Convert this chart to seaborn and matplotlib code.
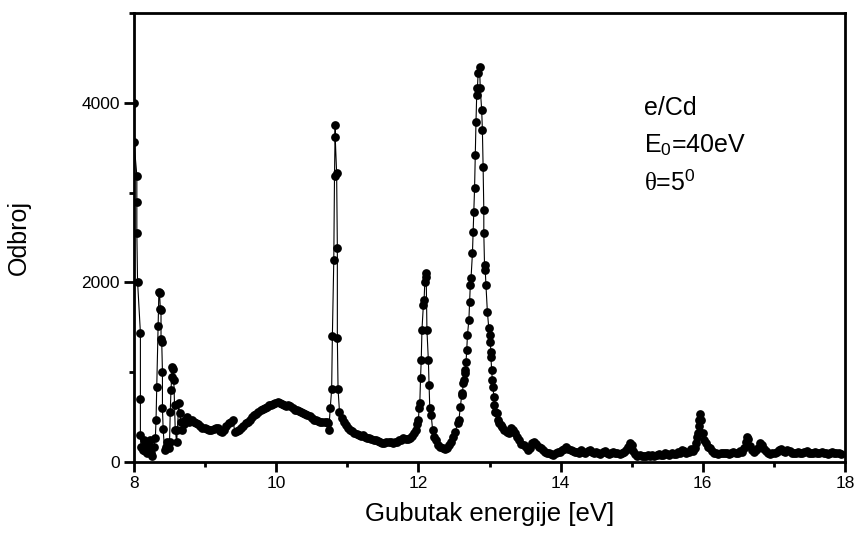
import matplotlib
matplotlib.use("Agg")
import matplotlib.pyplot as plt
import seaborn as sns
import pandas as pd
from matplotlib.ticker import MultipleLocator

# ---- data ----
energy = [
    8.00, 8.00, 8.04, 8.04, 8.04, 8.05, 8.09, 8.09, 8.09, 8.10,
    8.12, 8.14, 8.16, 8.18, 8.20, 8.22, 8.24, 8.26, 8.28, 8.30,
    8.31, 8.32, 8.34, 8.35, 8.36, 8.37, 8.38, 8.38, 8.39, 8.40, 8.40, 8.41, 8.43, 8.45, 8.47, 8.49,
    8.50, 8.51, 8.52, 8.53, 8.54, 8.55, 8.56, 8.57, 8.58, 8.60, 8.61, 8.63, 8.64, 8.66, 8.68,
    8.70, 8.72, 8.74, 8.76, 8.78, 8.81, 8.84, 8.87, 8.90, 8.93, 8.96, 9.00, 9.03, 9.06, 9.09,
    9.12, 9.15, 9.18, 9.21, 9.24, 9.27, 9.30, 9.33, 9.36, 9.39, 9.42, 9.45, 9.48, 9.51, 9.54,
    9.57, 9.60, 9.63, 9.66, 9.69, 9.72, 9.75, 9.78, 9.81, 9.84, 9.87, 9.90, 9.93, 9.96, 9.99,
    10.02, 10.05, 10.08, 10.11, 10.14, 10.17, 10.20, 10.23, 10.26, 10.29, 10.32, 10.35, 10.38,
    10.41, 10.44, 10.47, 10.50, 10.53, 10.56, 10.59, 10.62, 10.65, 10.68, 10.71, 10.73, 10.74,
    10.76, 10.78, 10.79, 10.81, 10.82, 10.83, 10.83, 10.85, 10.86, 10.86, 10.87, 10.89, 10.92,
    10.95, 10.98, 11.01, 11.04, 11.07, 11.10, 11.13, 11.16, 11.19, 11.22, 11.25, 11.28, 11.31,
    11.34, 11.37, 11.40, 11.43, 11.46, 11.49, 11.52, 11.55, 11.58, 11.61, 11.64, 11.67, 11.70,
    11.73, 11.76, 11.79, 11.82, 11.85, 11.88, 11.91, 11.94, 11.96, 11.98, 12.00, 12.01, 12.02,
    12.03, 12.04, 12.05, 12.07, 12.08, 12.09, 12.10, 12.11, 12.12, 12.14, 12.15, 12.16, 12.18,
    12.20, 12.22, 12.25, 12.28, 12.31, 12.34, 12.37, 12.40, 12.43, 12.46, 12.49, 12.52, 12.55,
    12.57, 12.59, 12.61, 12.62, 12.63, 12.64, 12.65, 12.66, 12.67, 12.68, 12.69, 12.71, 12.72,
    12.73, 12.74, 12.76, 12.77, 12.78, 12.79, 12.80, 12.81, 12.82, 12.83, 12.84, 12.86, 12.87,
    12.89, 12.90, 12.91, 12.92, 12.92, 12.93, 12.94, 12.95, 12.97, 12.99, 13.00, 13.01, 13.02,
    13.02, 13.03, 13.04, 13.05, 13.06, 13.07, 13.08, 13.10, 13.12, 13.14, 13.16, 13.18, 13.21,
    13.24, 13.27, 13.30, 13.33, 13.36, 13.39, 13.42, 13.45, 13.48, 13.51, 13.54, 13.57, 13.60,
    13.63, 13.66, 13.69, 13.72, 13.75, 13.78, 13.81, 13.84, 13.87, 13.90, 13.93, 13.96, 13.99,
    14.02, 14.05, 14.08, 14.11, 14.14, 14.17, 14.20, 14.23, 14.26, 14.29, 14.32, 14.35, 14.38,
    14.41, 14.44, 14.47, 14.50, 14.53, 14.56, 14.59, 14.62, 14.65, 14.68, 14.71, 14.74, 14.77,
    14.80, 14.83, 14.86, 14.89, 14.92, 14.95, 14.98, 15.00, 15.02, 15.05, 15.08, 15.11, 15.14,
    15.17, 15.20, 15.23, 15.26, 15.29, 15.32, 15.35, 15.38, 15.41, 15.44, 15.47, 15.50, 15.53,
    15.56, 15.59, 15.62, 15.65, 15.68, 15.71, 15.74, 15.77, 15.80, 15.83, 15.86, 15.89, 15.91,
    15.92, 15.93, 15.94, 15.95, 15.96, 15.98, 16.00, 16.02, 16.05, 16.08, 16.10, 16.13, 16.16,
    16.19, 16.22, 16.25, 16.28, 16.31, 16.34, 16.37, 16.40, 16.43, 16.46, 16.49, 16.52, 16.55,
    16.58, 16.61, 16.62, 16.64, 16.66, 16.69, 16.72, 16.75, 16.78, 16.81, 16.83, 16.86, 16.89,
    16.92, 16.95, 16.98, 17.01, 17.04, 17.07, 17.10, 17.13, 17.16, 17.19, 17.22, 17.25, 17.28,
    17.31, 17.34, 17.37, 17.40, 17.43, 17.46, 17.49, 17.52, 17.55, 17.58, 17.61, 17.64, 17.67,
    17.70, 17.73, 17.76, 17.79, 17.82, 17.85, 17.88, 17.91, 17.94,
]
counts = [
    4000, 3560, 3190, 2890, 2550, 2010, 1440, 700, 300, 165,
    130, 250, 120, 100, 180, 245, 104, 67, 170, 264,
    468, 838, 1520, 1896, 1880, 1700, 1690, 1365, 1340, 1006, 598, 364, 134, 170, 226, 160,
    226, 560, 800, 950, 1061, 1040, 913, 635, 356, 226, 356, 653, 545, 449, 356,
    420, 468, 500, 468, 450, 468, 440, 431, 420, 400, 380, 375, 370, 356, 356,
    365, 380, 375, 340, 338, 360, 400, 430, 449, 468, 330, 340, 356, 380, 400,
    431, 440, 470, 505, 520, 540, 560, 580, 590, 600, 616, 630, 640, 646, 660,
    671, 660, 650, 635, 620, 640, 620, 600, 580, 575, 565, 560, 545,
    540, 523, 510, 490, 470, 468, 455, 449, 450, 445, 440, 431, 356,
    598, 810, 1400, 2250, 3185, 3750, 3620, 3215, 2380, 1377, 810, 560, 487,
    440, 412, 380, 356, 340, 320, 310, 300, 290, 300, 280, 270, 264,
    255, 250, 245, 230, 220, 208, 210, 220, 226, 226, 215, 220, 226,
    240, 250, 264, 260, 255, 264, 290, 320, 356, 420, 468, 598, 660,
    932, 1136, 1470, 1750, 1804, 2000, 2101, 2060, 1470, 1136, 857, 598, 523,
    356, 282, 245, 190, 170, 152, 150, 152, 190, 226, 280, 338, 431,
    468, 616, 746, 765, 876, 913, 988, 1024, 1117, 1247, 1414, 1581, 1785,
    1971, 2045, 2324, 2565, 2788, 3048, 3419, 3790, 4087, 4161, 4328, 4402, 4161,
    3920, 3697, 3289, 2806, 2547, 2194, 2138, 1971, 1674, 1489, 1414, 1340, 1228,
    1173, 1024, 913, 838, 727, 635, 560, 542, 468, 431, 412, 393, 360,
    338, 320, 375, 356, 320, 282, 245, 200, 190, 170, 134, 160, 210,
    226, 200, 170, 152, 130, 110, 96, 96, 85, 78, 100, 115, 115,
    130, 150, 170, 140, 134, 120, 115, 115, 100, 130, 110, 95, 120,
    130, 110, 100, 115, 95, 90, 110, 120, 95, 90, 100, 110, 95,
    100, 90, 95, 110, 130, 170, 210, 190, 120, 85, 70, 75, 70,
    65, 70, 75, 70, 80, 70, 75, 90, 80, 75, 95, 85, 80,
    100, 90, 85, 110, 100, 130, 120, 95, 110, 140, 120, 160, 208,
    275, 326, 401, 468, 534, 470, 320, 250, 208, 170, 160, 120, 100,
    95, 90, 95, 100, 95, 100, 90, 95, 110, 100, 95, 120, 110,
    160, 226, 275, 260, 180, 130, 110, 130, 160, 208, 190, 140, 120,
    95, 90, 100, 105, 110, 130, 140, 120, 110, 134, 120, 100, 95,
    100, 110, 100, 95, 110, 120, 100, 95, 105, 110, 95, 100, 110,
    95, 100, 90, 100, 110, 100, 95, 100, 90,
]

x_ticks = [8, 10, 12, 14, 16, 18]
y_ticks = [0, 2000, 4000]
annot_lines = ["e/Cd", r"E$_{\mathrm{0}}$=40eV", r"$\theta$=5$^{\mathrm{0}}$"]

sns.set_style("ticks")
plt.rcParams["font.family"] = ["Liberation Sans", "DejaVu Sans"]
plt.rcParams["mathtext.fontset"] = "custom"
plt.rcParams["mathtext.rm"] = "Liberation Sans"
plt.rcParams["mathtext.it"] = "Liberation Serif"
plt.rcParams["mathtext.bf"] = "Liberation Sans:bold"
for key in ["text.color", "axes.labelcolor", "xtick.color", "ytick.color", "axes.edgecolor"]:
    plt.rcParams[key] = "black"

df = pd.DataFrame({"E": energy, "N": counts})

fig = plt.figure(figsize=(8.58, 5.37), dpi=100)
ax = fig.add_axes([134 / 858, 1 - 462 / 537, (845 - 134) / 858, (462 - 13) / 537])

sns.lineplot(data=df, x="E", y="N", sort=False, estimator=None, ax=ax,
             color="black", linewidth=0.8, marker="o", markersize=6.3,
             markeredgewidth=0, markerfacecolor="black")

ax.set_xlim(8, 18)
ax.set_ylim(0, 5000)
ax.set_xticks(x_ticks)
ax.set_yticks(y_ticks)
ax.xaxis.set_minor_locator(MultipleLocator(1))
ax.yaxis.set_minor_locator(MultipleLocator(1000))
ax.tick_params(which="major", direction="out", length=7, width=2, labelsize=12.5, pad=3)
ax.tick_params(which="minor", direction="out", length=3.5, width=2)
for s in ax.spines.values():
    s.set_linewidth(2)
    s.set_visible(True)

ax.set_xlabel("Gubutak energije [eV]", fontsize=18.5)
ax.set_ylabel("Odbroj", fontsize=18)
ax.xaxis.set_label_coords(0.5, -0.09)
ax.yaxis.set_label_coords(-0.145, 0.5)

ys = [3864, 3452, 3029]
for t, yv in zip(annot_lines, ys):
    ax.text(15.17, yv, t, fontsize=18, ha="left", va="baseline")

fig.savefig("out.png", dpi=100)
